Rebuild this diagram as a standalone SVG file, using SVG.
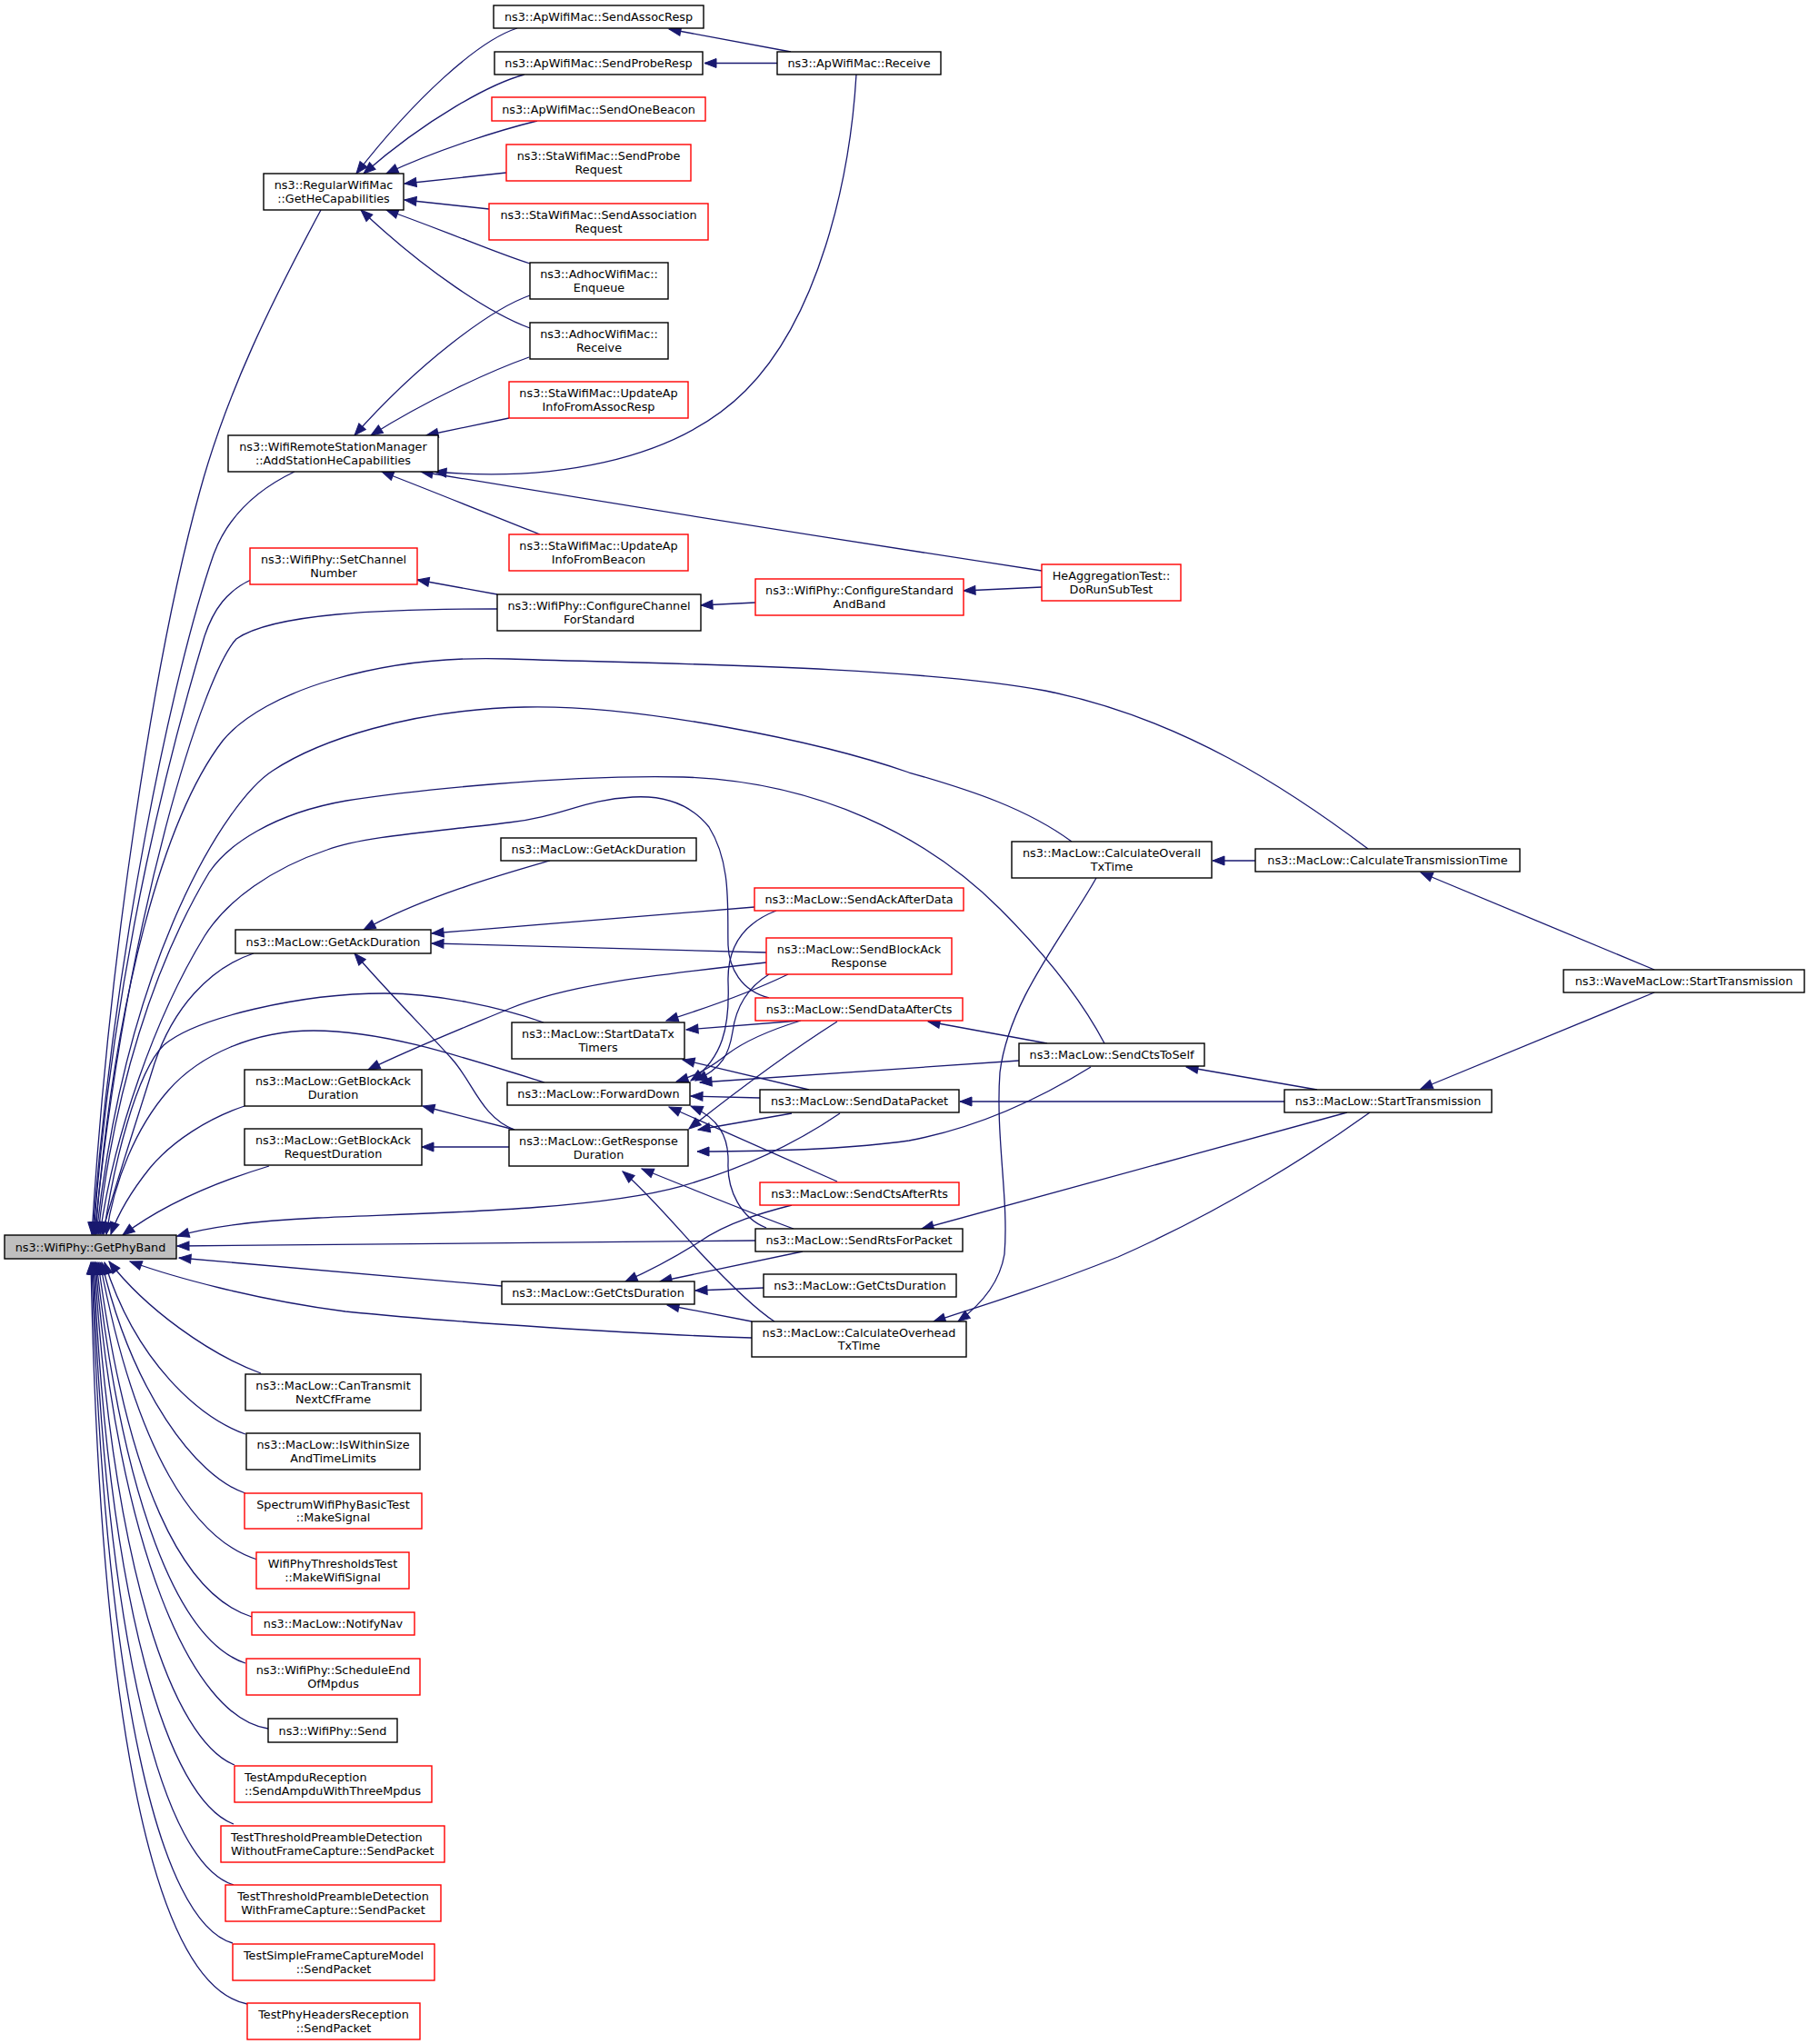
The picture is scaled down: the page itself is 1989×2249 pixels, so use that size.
<svg xmlns="http://www.w3.org/2000/svg" width="1989" height="2249" viewBox="0 0 1989 2249">
<style>
.b{fill:#fff;stroke:#000;stroke-width:1.4}
.r{fill:#fff;stroke:#f00;stroke-width:1.4}
.g{fill:#bfbfbf;stroke:#000;stroke-width:1.4}
text{font-family:"DejaVu Sans","Liberation Sans",sans-serif;font-size:12.8px;fill:#000;text-anchor:middle}
text.l{text-anchor:start}
.e path{fill:none;stroke:#191970;stroke-width:1.3;marker-end:url(#a)}
</style>
<defs>
<marker id="a" markerUnits="userSpaceOnUse" markerWidth="14" markerHeight="11" refX="13" refY="5" orient="auto" overflow="visible">
<path d="M0,0 L13,5 L0,10 z" fill="#191970" stroke="#191970" stroke-width="1"/>
</marker>
</defs>
<rect width="1989" height="2249" fill="#fff"/>
<g class="e" id="connectors">
<path d="M870,57 L736,32"/>
<path d="M855,69.5 L775,69.5"/>
<path d="M569,31 C525,45 455,110 392,191"/>
<path d="M577,82 C540,92 470,130 400,191"/>
<path d="M591,133 C550,143 480,165 425,191"/>
<path d="M557,190 L445,202"/>
<path d="M538,230 L445,220"/>
<path d="M583,290 C550,280 500,258 425,231"/>
<path d="M583,361 C540,345 470,300 397,231"/>
<path d="M583,325 C540,340 460,400 390,479"/>
<path d="M582,393 C540,408 470,440 408,479"/>
<path d="M560,460 L469,479"/>
<path d="M942,82 C935,200 900,350 820,430 C740,510 600,530 478,519"/>
<path d="M594,588 C560,575 500,550 420,519"/>
<path d="M1146,628 Q800,575 463,519"/>
<path d="M547,654 L459,638"/>
<path d="M831,663 L771,666"/>
<path d="M1146,646 L1060,650"/>
<path d="M605,947 C560,960 470,985 400,1023"/>
<path d="M830,998 L475,1027"/>
<path d="M843,1048 L475,1038"/>
<path d="M566,1243 C530,1230 520,1190 497,1165 C470,1135 430,1095 390,1049"/>
<path d="M843,1059 C700,1075 620,1085 560,1110 C500,1135 450,1155 405,1177"/>
<path d="M566,1243 L465,1217"/>
<path d="M560,1262 L464,1262"/>
<path d="M867,1072 C840,1085 790,1105 733,1123"/>
<path d="M880,1123 L755,1133"/>
<path d="M890,1199 L751,1166"/>
<path d="M854,1002 C820,1015 800,1040 801,1080 C803,1130 795,1165 760,1189"/>
<path d="M846,1072 C825,1085 810,1105 806,1135 C802,1160 795,1175 765,1189"/>
<path d="M881,1123 C845,1134 820,1145 800,1160 C785,1172 770,1182 744,1190"/>
<path d="M1121,1167 L770,1191"/>
<path d="M836,1208 L760,1206"/>
<path d="M921,1300 L736,1218"/>
<path d="M843,1351 C815,1340 800,1310 801,1280 C802,1250 790,1230 760,1217"/>
<path d="M921,1124 C880,1150 830,1185 758,1242"/>
<path d="M871,1225 L768,1243"/>
<path d="M1200,1174 C1150,1205 1080,1240 1000,1255 C930,1265 840,1267 767,1267"/>
<path d="M873,1352 C840,1340 790,1320 706,1286"/>
<path d="M852,1454 C830,1440 800,1410 770,1378 C740,1345 710,1310 685,1289"/>
<path d="M871,1326 C840,1334 800,1345 770,1366 C740,1385 715,1398 688,1410"/>
<path d="M883,1377 L726,1410"/>
<path d="M840,1417 L765,1420"/>
<path d="M827,1454 L734,1436"/>
<path d="M1507,1224 C1450,1265 1350,1330 1230,1383 C1150,1415 1080,1437 1027,1454"/>
<path d="M1206,966 C1170,1030 1110,1100 1100,1180 C1095,1250 1110,1320 1105,1380 C1100,1410 1080,1435 1054,1454"/>
<path d="M1152,1148 L1021,1124"/>
<path d="M1413,1212 L1056,1212"/>
<path d="M1449,1199 L1305,1174"/>
<path d="M1482,1224 L1014,1352"/>
<path d="M1820,1092 L1563,1198"/>
<path d="M1820,1067 L1563,960"/>
<path d="M1381,947 L1334,947"/>
<path d="M353,231 C300,330 250,430 220,540 C170,720 120,1050 101,1358"/>
<path d="M324,519 C280,540 250,570 235,610 C190,740 125,1050 102,1358"/>
<path d="M276,638 C250,650 235,670 225,700 C195,800 125,1050 103,1358"/>
<path d="M547,670 C420,670 300,675 260,703 C225,740 140,1000 104,1358"/>
<path d="M1505,934 C1420,870 1300,790 1150,760 C1000,732 700,730 560,725 C420,720 290,760 245,815 C180,900 125,1100 105,1358"/>
<path d="M1179,926 C1130,890 1070,870 1000,850 C900,815 700,775 577,778 C450,781 350,815 300,848 C250,880 140,1050 106,1358"/>
<path d="M1215,1148 C1195,1110 1160,1060 1100,1000 C1020,920 900,860 752,855 C620,852 450,870 381,881 C300,895 250,930 230,960 C170,1060 125,1200 108,1358"/>
<path d="M846,1098 C815,1090 802,1065 801,1040 C800,1000 805,950 780,910 C760,885 730,875 696,877 C640,880 620,898 560,905 C480,915 400,920 360,935 C300,955 250,990 225,1030 C170,1120 125,1250 110,1358"/>
<path d="M279,1049 C230,1065 190,1110 170,1170 C145,1250 125,1310 112,1358"/>
<path d="M598,1125 C550,1108 480,1093 423,1093 C330,1093 215,1120 180,1150 C150,1180 125,1280 114,1358"/>
<path d="M599,1191 C500,1160 420,1134 345,1134 C280,1134 220,1160 185,1200 C150,1240 125,1300 117,1358"/>
<path d="M269,1217 C230,1230 190,1255 165,1285 C145,1310 130,1335 122,1358"/>
<path d="M296,1283 C240,1300 180,1325 135,1359"/>
<path d="M924,1225 C880,1255 820,1285 750,1305 C650,1333 450,1335 350,1340 C280,1343 230,1350 195,1360"/>
<path d="M831,1365 L195,1371"/>
<path d="M552,1415 L197,1384"/>
<path d="M827,1472 C700,1468 500,1455 380,1443 C280,1430 190,1405 143,1388"/>
<path d="M287,1511 C230,1490 160,1440 120,1388"/>
<path d="M270,1578 C220,1560 150,1500 115,1389"/>
<path d="M270,1643 C215,1625 145,1530 112,1389"/>
<path d="M283,1716 C215,1695 150,1600 110,1389"/>
<path d="M277,1779 C200,1755 140,1630 108,1389"/>
<path d="M270,1830 C195,1805 135,1650 106,1389"/>
<path d="M295,1902 C210,1890 130,1700 105,1389"/>
<path d="M258,1942 C190,1915 125,1730 104,1389"/>
<path d="M257,2007 C185,1980 120,1770 103,1389"/>
<path d="M257,2074 C180,2050 118,1820 102,1389"/>
<path d="M256,2138 C175,2115 115,1860 101,1389"/>
<path d="M272,2205 C170,2185 110,1900 100,1389"/>
</g>
<g id="n1"><rect class="g" x="5" y="1359" width="189" height="26"/><text x="99.5" y="1376.6">ns3::WifiPhy::GetPhyBand</text></g>
<g id="n2"><rect class="b" x="290" y="191" width="154" height="40"/><text x="367" y="208.2">ns3::RegularWifiMac</text><text x="367" y="222.7">::GetHeCapabilities</text></g>
<g id="n3"><rect class="b" x="251" y="479" width="231" height="40"/><text x="366.5" y="496.2">ns3::WifiRemoteStationManager</text><text x="366.5" y="510.7">::AddStationHeCapabilities</text></g>
<g id="n4"><rect class="r" x="275" y="603" width="184" height="40"/><text x="367" y="620.2">ns3::WifiPhy::SetChannel</text><text x="367" y="634.7">Number</text></g>
<g id="n5"><rect class="b" x="547" y="654" width="224" height="40"/><text x="659" y="671.2">ns3::WifiPhy::ConfigureChannel</text><text x="659" y="685.7">ForStandard</text></g>
<g id="n6"><rect class="r" x="831" y="637" width="229" height="40"/><text x="945.5" y="654.2">ns3::WifiPhy::ConfigureStandard</text><text x="945.5" y="668.7">AndBand</text></g>
<g id="n7"><rect class="r" x="1146" y="621" width="153" height="40"/><text x="1222.5" y="638.2">HeAggregationTest::</text><text x="1222.5" y="652.7">DoRunSubTest</text></g>
<g id="n8"><rect class="b" x="543" y="6" width="231" height="25"/><text x="658.5" y="23.1">ns3::ApWifiMac::SendAssocResp</text></g>
<g id="n9"><rect class="b" x="544" y="57" width="229" height="25"/><text x="658.5" y="74.1">ns3::ApWifiMac::SendProbeResp</text></g>
<g id="n10"><rect class="b" x="855" y="57" width="180" height="25"/><text x="945" y="74.1">ns3::ApWifiMac::Receive</text></g>
<g id="n11"><rect class="r" x="541" y="107" width="235" height="26"/><text x="658.5" y="124.6">ns3::ApWifiMac::SendOneBeacon</text></g>
<g id="n12"><rect class="r" x="557" y="159" width="203" height="40"/><text x="658.5" y="176.2">ns3::StaWifiMac::SendProbe</text><text x="658.5" y="190.7">Request</text></g>
<g id="n13"><rect class="r" x="538" y="224" width="241" height="40"/><text x="658.5" y="241.2">ns3::StaWifiMac::SendAssociation</text><text x="658.5" y="255.7">Request</text></g>
<g id="n14"><rect class="b" x="583" y="289" width="152" height="40"/><text x="659" y="306.2">ns3::AdhocWifiMac::</text><text x="659" y="320.7">Enqueue</text></g>
<g id="n15"><rect class="b" x="583" y="355" width="152" height="40"/><text x="659" y="372.2">ns3::AdhocWifiMac::</text><text x="659" y="386.7">Receive</text></g>
<g id="n16"><rect class="r" x="560" y="420" width="197" height="40"/><text x="658.5" y="437.2">ns3::StaWifiMac::UpdateAp</text><text x="658.5" y="451.7">InfoFromAssocResp</text></g>
<g id="n17"><rect class="r" x="560" y="588" width="197" height="40"/><text x="658.5" y="605.2">ns3::StaWifiMac::UpdateAp</text><text x="658.5" y="619.7">InfoFromBeacon</text></g>
<g id="n18"><rect class="b" x="259" y="1023" width="215" height="26"/><text x="366.5" y="1040.6">ns3::MacLow::GetAckDuration</text></g>
<g id="n19"><rect class="b" x="551" y="922" width="215" height="25"/><text x="658.5" y="939.1">ns3::MacLow::GetAckDuration</text></g>
<g id="n20"><rect class="r" x="830" y="977" width="230" height="25"/><text x="945" y="994.1">ns3::MacLow::SendAckAfterData</text></g>
<g id="n21"><rect class="r" x="843" y="1032" width="204" height="40"/><text x="945" y="1049.2">ns3::MacLow::SendBlockAck</text><text x="945" y="1063.7">Response</text></g>
<g id="n22"><rect class="r" x="831" y="1098" width="228" height="25"/><text x="945" y="1115.1">ns3::MacLow::SendDataAfterCts</text></g>
<g id="n23"><rect class="b" x="563" y="1125" width="190" height="40"/><text x="658" y="1142.2">ns3::MacLow::StartDataTx</text><text x="658" y="1156.7">Timers</text></g>
<g id="n24"><rect class="b" x="558" y="1191" width="201" height="25"/><text x="658.5" y="1208.1">ns3::MacLow::ForwardDown</text></g>
<g id="n25"><rect class="b" x="836" y="1199" width="219" height="25"/><text x="945.5" y="1216.1">ns3::MacLow::SendDataPacket</text></g>
<g id="n26"><rect class="b" x="269" y="1177" width="195" height="40"/><text x="366.5" y="1194.2">ns3::MacLow::GetBlockAck</text><text x="366.5" y="1208.7">Duration</text></g>
<g id="n27"><rect class="b" x="269" y="1242" width="195" height="40"/><text x="366.5" y="1259.2">ns3::MacLow::GetBlockAck</text><text x="366.5" y="1273.7">RequestDuration</text></g>
<g id="n28"><rect class="b" x="560" y="1243" width="197" height="40"/><text x="658.5" y="1260.2">ns3::MacLow::GetResponse</text><text x="658.5" y="1274.7">Duration</text></g>
<g id="n29"><rect class="r" x="836" y="1301" width="219" height="25"/><text x="945.5" y="1318.1">ns3::MacLow::SendCtsAfterRts</text></g>
<g id="n30"><rect class="b" x="831" y="1352" width="228" height="25"/><text x="945" y="1369.1">ns3::MacLow::SendRtsForPacket</text></g>
<g id="n31"><rect class="b" x="552" y="1410" width="212" height="25"/><text x="658" y="1427.1">ns3::MacLow::GetCtsDuration</text></g>
<g id="n32"><rect class="b" x="840" y="1402" width="212" height="25"/><text x="946" y="1419.1">ns3::MacLow::GetCtsDuration</text></g>
<g id="n33"><rect class="b" x="827" y="1454" width="236" height="39"/><text x="945" y="1470.7">ns3::MacLow::CalculateOverhead</text><text x="945" y="1485.2">TxTime</text></g>
<g id="n34"><rect class="b" x="1113" y="926" width="220" height="40"/><text x="1223" y="943.2">ns3::MacLow::CalculateOverall</text><text x="1223" y="957.7">TxTime</text></g>
<g id="n35"><rect class="b" x="1381" y="934" width="291" height="25"/><text x="1526.5" y="951.1">ns3::MacLow::CalculateTransmissionTime</text></g>
<g id="n36"><rect class="b" x="1720" y="1067" width="265" height="25"/><text x="1852.5" y="1084.1">ns3::WaveMacLow::StartTransmission</text></g>
<g id="n37"><rect class="b" x="1121" y="1148" width="204" height="25"/><text x="1223" y="1165.1">ns3::MacLow::SendCtsToSelf</text></g>
<g id="n38"><rect class="b" x="1413" y="1199" width="228" height="25"/><text x="1527" y="1216.1">ns3::MacLow::StartTransmission</text></g>
<g id="n39"><rect class="b" x="270" y="1512" width="193" height="40"/><text x="366.5" y="1529.2">ns3::MacLow::CanTransmit</text><text x="366.5" y="1543.7">NextCfFrame</text></g>
<g id="n40"><rect class="b" x="271" y="1577" width="191" height="40"/><text x="366.5" y="1594.2">ns3::MacLow::IsWithinSize</text><text x="366.5" y="1608.7">AndTimeLimits</text></g>
<g id="n41"><rect class="r" x="269" y="1643" width="195" height="39"/><text x="366.5" y="1659.7">SpectrumWifiPhyBasicTest</text><text x="366.5" y="1674.2">::MakeSignal</text></g>
<g id="n42"><rect class="r" x="282" y="1708" width="168" height="40"/><text x="366" y="1725.2">WifiPhyThresholdsTest</text><text x="366" y="1739.7">::MakeWifiSignal</text></g>
<g id="n43"><rect class="r" x="277" y="1774" width="179" height="25"/><text x="366.5" y="1791.1">ns3::MacLow::NotifyNav</text></g>
<g id="n44"><rect class="r" x="271" y="1825" width="191" height="40"/><text x="366.5" y="1842.2">ns3::WifiPhy::ScheduleEnd</text><text x="366.5" y="1856.7">OfMpdus</text></g>
<g id="n45"><rect class="b" x="295" y="1891" width="142" height="26"/><text x="366" y="1908.6">ns3::WifiPhy::Send</text></g>
<g id="n46"><rect class="r" x="258" y="1943" width="217" height="40"/><text class="l" x="269" y="1960.2">TestAmpduReception</text><text class="l" x="269" y="1974.7">::SendAmpduWithThreeMpdus</text></g>
<g id="n47"><rect class="r" x="243" y="2009" width="246" height="40"/><text class="l" x="254" y="2026.2">TestThresholdPreambleDetection</text><text class="l" x="254" y="2040.7">WithoutFrameCapture::SendPacket</text></g>
<g id="n48"><rect class="r" x="248" y="2074" width="237" height="40"/><text x="366.5" y="2091.2">TestThresholdPreambleDetection</text><text x="366.5" y="2105.7">WithFrameCapture::SendPacket</text></g>
<g id="n49"><rect class="r" x="256" y="2139" width="222" height="40"/><text x="367" y="2156.2">TestSimpleFrameCaptureModel</text><text x="367" y="2170.7">::SendPacket</text></g>
<g id="n50"><rect class="r" x="272" y="2204" width="190" height="40"/><text x="367" y="2221.2">TestPhyHeadersReception</text><text x="367" y="2235.7">::SendPacket</text></g>
</svg>
